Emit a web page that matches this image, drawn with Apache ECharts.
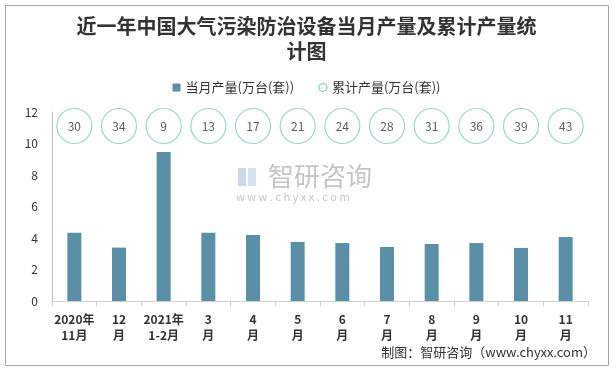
<!DOCTYPE html>
<html><head><meta charset="utf-8">
<script src="https://cdn.jsdelivr.net/npm/echarts@6/dist/echarts.min.js"></script>
<style>html,body{margin:0;padding:0;background:#fff}#c{width:613px;height:368px}</style>
</head><body><div id="c"></div>
<script>
var categories = ['2020年\n11月','12\n月','2021年\n1-2月','3\n月','4\n月','5\n月','6\n月','7\n月','8\n月','9\n月','10\n月','11\n月'];
var monthly = [4.34, 3.39, 9.46, 4.34, 4.19, 3.75, 3.68, 3.43, 3.62, 3.68, 3.37, 4.06];
var cumulative = [30, 34, 9, 13, 17, 21, 24, 28, 31, 36, 39, 43];
var yTicks = {min: 0, max: 12, interval: 2};
var rowName = ['累计'];

var chart = echarts.init(document.getElementById('c'), null, {renderer: 'canvas'});
var font = '"Noto Sans CJK SC", "Microsoft YaHei", sans-serif';
chart.setOption({
  animation: false,
  textStyle: {fontFamily: font},
  title: {
    text: '近一年中国大气污染防治设备当月产量及累计产量统\n计图',
    left: 'center', top: 9,
    textStyle: {fontSize: 20, fontWeight: 'bold', color: '#333', lineHeight: 25, fontFamily: font}
  },
  legend: {
    top: 76, left: 'center', itemWidth: 8, itemHeight: 8, itemGap: 24,
    textStyle: {fontSize: 13, color: '#333'},
    data: [
      {name: '当月产量(万台(套))', icon: 'rect'},
      {name: '累计产量(万台(套))', icon: 'circle', itemStyle: {color: '#fff', borderColor: '#7fcac3', borderWidth: 1.5}}
    ]
  },
  grid: [
    {left: 52, right: 25, top: 112, bottom: 67},
    {left: 52, right: 25, top: 109, height: 34}
  ],
  xAxis: [
    {type: 'category', data: categories, gridIndex: 0,
     axisLine: {lineStyle: {color: '#d0d0d0'}},
     axisTick: {show: true, alignWithLabel: false, length: 5, lineStyle: {color: '#d0d0d0'}},
     axisLabel: {fontSize: 12, fontWeight: 'bold', color: '#333', lineHeight: 16, margin: 10, interval: 0}},
    {type: 'category', data: categories, gridIndex: 1, show: false}
  ],
  yAxis: [
    {type: 'value', gridIndex: 0, min: yTicks.min, max: yTicks.max, interval: yTicks.interval,
     axisLine: {show: true, lineStyle: {color: '#bfbfbf'}},
     axisTick: {show: false}, splitLine: {show: false},
     axisLabel: {fontSize: 12, color: '#333', margin: 14}},
    {type: 'category', data: rowName, gridIndex: 1, show: false}
  ],
  series: [
    {name: '当月产量(万台(套))', type: 'bar', data: monthly, barWidth: 14,
     itemStyle: {color: '#5b8fa7'}},
    {name: '累计产量(万台(套))', type: 'scatter', xAxisIndex: 1, yAxisIndex: 1,
     data: cumulative.map(function (v, i) { return [categories[i], rowName[0], v]; }),
     symbol: 'circle', symbolSize: 35,
     itemStyle: {color: '#fff', borderColor: '#7fcac3', borderWidth: 1.2},
     label: {show: true, position: 'inside', fontSize: 12, color: '#333',
       formatter: function (p) { return p.value[2]; }}}
  ],
  graphic: [
    {type: 'rect', left: 3, top: 3, shape: {width: 603, height: 360},
     style: {fill: 'none', stroke: '#a6a6a6', lineWidth: 1}, silent: true, z: -1},
    {type: 'text', left: 268, top: 163, style: {text: '智研咨询', fontSize: 26, fill: 'rgba(150,150,150,0.55)', fontFamily: font}, z: -1},
    {type: 'text', left: 236, top: 191, style: {text: 'w w w . c h y x x . c o m', fontSize: 11, fill: 'rgba(150,150,150,0.55)', fontFamily: font}, z: -1},
    {type: 'rect', left: 238, top: 168, shape: {width: 8, height: 18}, style: {fill: 'rgba(110,140,190,0.35)'}, z: -1},
    {type: 'rect', left: 248, top: 168, shape: {width: 8, height: 18}, style: {fill: 'rgba(120,170,220,0.35)'}, z: -1},
    {type: 'text', right: 17, top: 346, style: {text: '制图：智研咨询（www.chyxx.com）', fontSize: 13, fill: '#333', fontFamily: font}}
  ]
});
</script></body></html>
